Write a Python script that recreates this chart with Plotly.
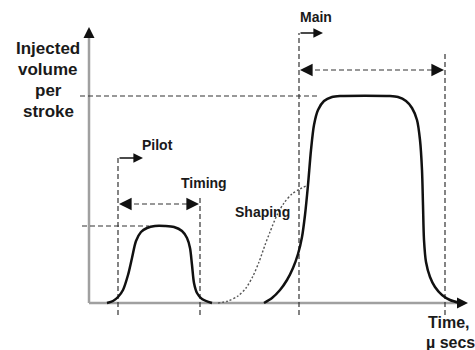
import plotly.graph_objects as go

# Coordinate system: time (arbitrary units, 0 at vertical axis), volume (0 at baseline)
# Pilot injection curve
pilot_t = [18, 24, 29, 34, 39, 43, 47, 52, 58, 66, 76, 85, 93, 98, 101, 103, 105, 108, 113, 123]
pilot_v = [0, 2, 6, 13, 28, 45, 62, 71, 75, 77, 77, 76, 72, 65, 55, 38, 20, 10, 4, 0]

# Rate shaping (dotted) curve
shaping_t = [129, 139, 149, 157, 164, 170, 176, 181, 188, 195, 203, 211, 217]
shaping_v = [0, 2, 7, 15, 27, 41, 58, 71, 88, 100, 109, 114, 117]

# Main injection curve
main_t = [175, 183, 191, 198, 204, 209, 213, 216, 219, 222, 225, 229, 235, 243, 251,
          301, 309, 317, 323, 328, 331, 333, 334, 335, 337, 341, 346, 353, 361, 371]
main_v = [0, 5, 13, 23, 35, 49, 66, 88, 118, 153, 178, 193, 202, 206, 207,
          207, 206, 202, 195, 183, 163, 133, 98, 63, 41, 26, 16, 8, 3, 0]

# Event times and levels
pilot_start, pilot_end = 29, 111
main_start, main_end = 210, 356
pilot_peak, main_peak = 77, 207

# Axis extents
t_max = 379
v_max = 276

labels_y = ["Injected", "volume", "per", "stroke"]

fig = go.Figure()

ink = "#111111"
dash_col = "#333333"
axis_col = "#a0a0a0"

def dline(x, y, dash="5px,3px", color=dash_col, width=1.2):
    fig.add_trace(go.Scatter(x=x, y=y, mode="lines", hoverinfo="skip",
                             line=dict(color=color, width=width, dash=dash)))

# axes
fig.add_trace(go.Scatter(x=[0, 0], y=[0, v_max - 6], mode="lines", hoverinfo="skip",
                         line=dict(color=axis_col, width=2.5)))
fig.add_trace(go.Scatter(x=[0, t_max - 6], y=[0, 0], mode="lines", hoverinfo="skip",
                         line=dict(color=axis_col, width=2.5)))

# dashed guide lines
low = -12
dline([-9, 229], [main_peak, main_peak])
dline([-7, 60], [pilot_peak, pilot_peak])
dline([pilot_start, pilot_start], [low, 145])
dline([pilot_end, pilot_end], [low, 108])
dline([main_start, main_start], [low, 270])
dline([main_end, main_end], [low, 250])
dline([pilot_start + 8, pilot_end - 8], [99, 99])
dline([main_start + 8, main_end - 8], [233, 233])

# curves
fig.add_trace(go.Scatter(x=shaping_t, y=shaping_v, mode="lines", hoverinfo="skip",
                         line=dict(color="#555555", width=1.4, dash="2px,2px", shape="spline", smoothing=0.8)))
fig.add_trace(go.Scatter(x=pilot_t, y=pilot_v, mode="lines", hoverinfo="skip",
                         line=dict(color=ink, width=2.5, shape="spline", smoothing=0.8)))
fig.add_trace(go.Scatter(x=main_t, y=main_v, mode="lines", hoverinfo="skip",
                         line=dict(color=ink, width=2.5, shape="spline", smoothing=0.8)))

def arrow(x, y, ax, ay, width=1.6, size=1.2):
    fig.add_annotation(x=x, y=y, ax=ax, ay=ay, xref="x", yref="y", axref="x", ayref="y",
                       showarrow=True, arrowhead=2, arrowsize=size, arrowwidth=width,
                       arrowcolor=ink, standoff=0, text="")

# solid timing arrows
arrow(pilot_start + 25, 145, pilot_start, 145)
arrow(main_start + 24, 270, main_start, 270)
# dashed duration arrowheads
arrow(pilot_start + 1, 99, pilot_start + 10, 99, width=1.8, size=1.4)
arrow(pilot_end - 1, 99, pilot_end - 10, 99, width=1.8, size=1.4)
arrow(main_start + 1, 233, main_start + 10, 233, width=1.8, size=1.4)
arrow(main_end - 1, 233, main_end - 10, 233, width=1.8, size=1.4)
# axis arrowheads
arrow(0, v_max, 0, v_max - 10, width=2.2, size=1.0)
arrow(t_max, 0, t_max - 10, 0, width=2.2, size=1.0)

font_b = "Liberation Sans"
def label(x, y, text, size=14, bold=True):
    fig.add_annotation(x=x, y=y, xref="x", yref="y", showarrow=False,
                       text=f"<b>{text}</b>" if bold else text,
                       font=dict(family=font_b, size=size, color="#1a1a1a"))

for i, t in enumerate(labels_y):
    label(-41, 255 - i * 21, t, size=17)

label(68, 158, "Pilot", 14)
label(115, 120, "Timing", 14)
label(173, 91, "Shaping", 14)
label(227, 286, "Main", 14)
label(360, -19, "Time,", 16)
label(361, -39, "µ secs", 16)

fig.update_layout(
    width=475, height=350,
    margin=dict(l=0, r=0, t=0, b=0),
    paper_bgcolor="white", plot_bgcolor="white",
    showlegend=False,
    xaxis=dict(range=[-89, 386], visible=False, fixedrange=True),
    yaxis=dict(range=[-47, 303], visible=False, fixedrange=True),
)

fig.write_html("out.html", post_script="document.body.style.margin='0';",
               config={"displayModeBar": False})
